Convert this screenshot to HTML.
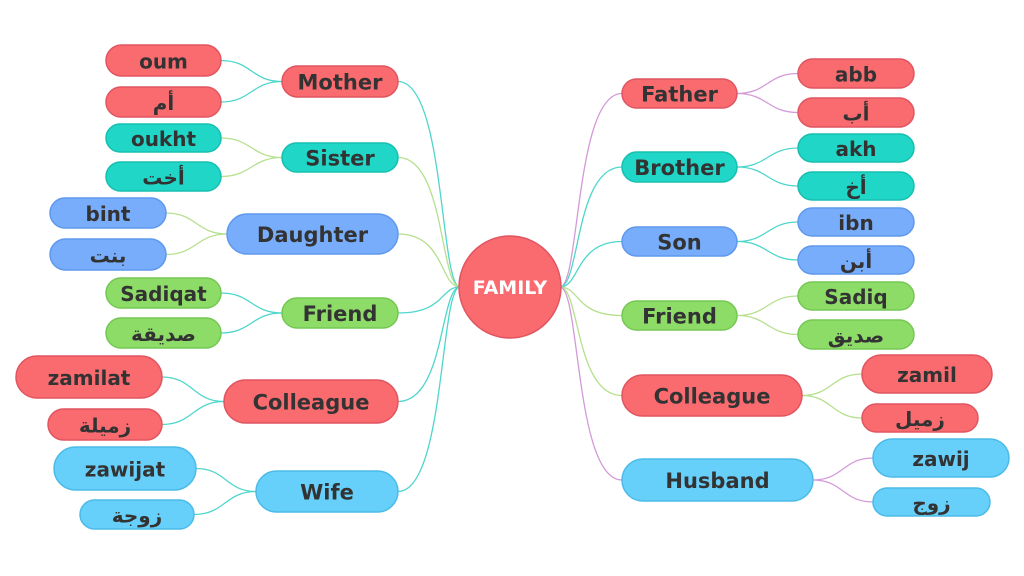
<!DOCTYPE html>
<html><head><meta charset="utf-8">
<style>
html,body{margin:0;padding:0;background:#fff;}
svg{display:block}
text{font-family:"DejaVu Sans","Liberation Sans","Noto Sans CJK SC",sans-serif;font-weight:bold;fill:#333;text-anchor:middle;dominant-baseline:central}
</style></head>
<body>
<svg id="s" width="1024" height="576" xmlns="http://www.w3.org/2000/svg"></svg>
<script>
const R="#fa6b70",T="#1fd6c7",B="#78adfc",G="#8edc68",S="#66cffa";
const RS="#e05560",TS="#16bfb0",BS="#5f98ec",GS="#74c852",SS="#4cbbe8";
const cT="#4fd6cc",cG="#b5e08e",cP="#d39ad8";
const strokeOf={[R]:RS,[T]:TS,[B]:BS,[G]:GS,[S]:SS};
const L=[
["Mother",282,66,398,97,R,cT,[["oum",106,45,221,76],["أم",106,87,221,117]],cT],
["Sister",282,143,398,172,T,cG,[["oukht",106,124,221,152],["أخت",106,162,221,191]],cG],
["Daughter",227,214,398,254,B,cG,[["bint",50,198,166,228],["بنت",50,239,166,270]],cG],
["Friend",282,298,398,328,G,cT,[["Sadiqat",106,278,221,308],["صديقة",106,318,221,348]],cT],
["Colleague",224,380,398,423,R,cT,[["zamilat",16,356,162,398],["زميلة",48,409,162,440]],cT],
["Wife",256,471,398,512,S,cT,[["zawijat",54,447,196,490],["زوجة",80,500,194,529]],cT]];
const Rt=[
["Father",622,79,737,108,R,cP,[["abb",798,59,914,88],["أب",798,98,914,127]],cP],
["Brother",622,152,737,182,T,cT,[["akh",798,134,914,162],["أخ",798,172,914,200]],cT],
["Son",622,227,737,256,B,cT,[["ibn",798,208,914,236],["أبن",798,246,914,274]],cT],
["Friend",622,301,737,330,G,cG,[["Sadiq",798,282,914,310],["صديق",798,320,914,349]],cG],
["Colleague",622,375,802,416,R,cG,[["zamil",862,355,992,393],["زميل",862,404,978,432]],cG],
["Husband",622,459,813,501,S,cP,[["zawij",873,439,1009,477],["زوج",873,488,990,516]],cP]];
let lines="",nodes="";
function node(l,x1,y1,x2,y2,c,fs){
 const h=y2-y1;
 nodes+=`<rect x="${x1}" y="${y1}" width="${x2-x1}" height="${h}" rx="${h/2}" fill="${c}" stroke="${strokeOf[c]}" stroke-width="1.5"/>`;
 nodes+=`<text x="${(x1+x2)/2}" y="${(y1+y2)/2+1}" font-size="${fs}">${l}</text>`;
}
function curve(x1,y1,x2,y2,c){
 const mx=(x1+x2)/2;
 lines+=`<path d="M${x1} ${y1} C${mx} ${y1} ${mx} ${y2} ${x2} ${y2}" fill="none" stroke="${c}" stroke-width="1.3"/>`;
}
function side(arr,left){
 for(const n of arr){
  const [l,x1,y1,x2,y2,c,cc,subs,sc]=n, cy=(y1+y2)/2;
  if(left){
   lines+=`<path d="M460 287 C440 287 445 ${cy} 398 ${cy}" fill="none" stroke="${cc}" stroke-width="1.3"/>`;
  } else {
   lines+=`<path d="M560 287 C580 287 575 ${cy} 622 ${cy}" fill="none" stroke="${cc}" stroke-width="1.3"/>`;
  }
  node(l,x1,y1,x2,y2,c,21);
  for(const s of subs){
   const sy=(s[2]+s[4])/2;
   if(left) curve(x1,cy,s[3],sy,sc); else curve(x2,cy,s[1],sy,sc);
   node(s[0],s[1],s[2],s[3],s[4],c,20);
  }
 }
}
side(L,true);side(Rt,false);
nodes+=`<circle cx="510" cy="287" r="51" fill="${R}" stroke="${RS}" stroke-width="1.5"/><text x="510" y="288" font-size="19" style="fill:#fff">FAMILY</text>`;
document.getElementById("s").innerHTML=lines+nodes;
</script>
</body></html>
